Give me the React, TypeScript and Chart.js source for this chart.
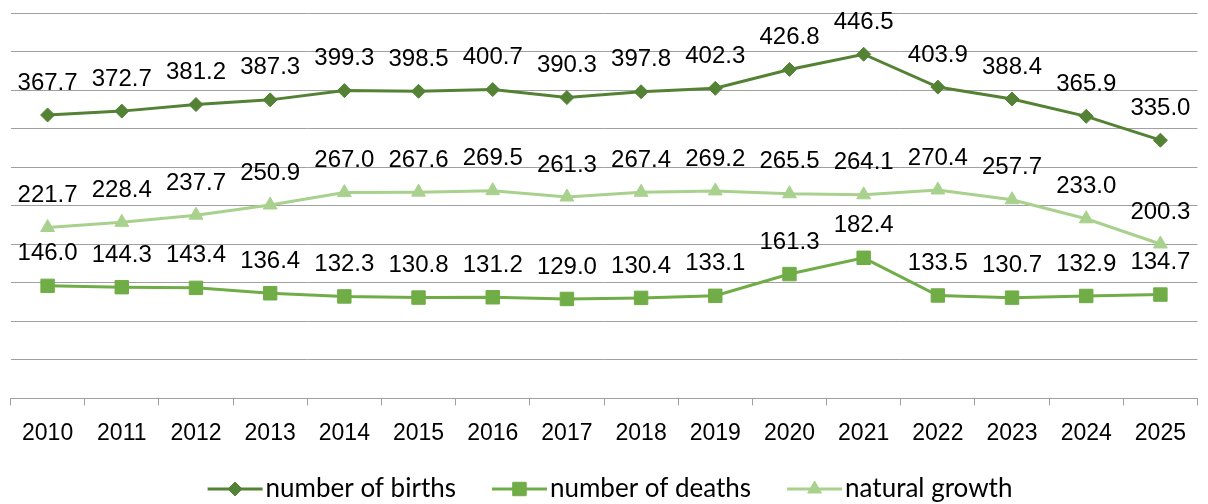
import React, { useEffect, useRef } from "react";
import { Chart, registerables } from "chart.js";
import { drawPoint } from "chart.js/helpers";

Chart.register(...registerables);

const years = ["2010", "2011", "2012", "2013", "2014", "2015", "2016", "2017", "2018", "2019", "2020", "2021", "2022", "2023", "2024", "2025"];
const births = [367.7, 372.7, 381.2, 387.3, 399.3, 398.5, 400.7, 390.3, 397.8, 402.3, 426.8, 446.5, 403.9, 388.4, 365.9, 335.0];
const deaths = [146.0, 144.3, 143.4, 136.4, 132.3, 130.8, 131.2, 129.0, 130.4, 133.1, 161.3, 182.4, 133.5, 130.7, 132.9, 134.7];
const growth = [221.7, 228.4, 237.7, 250.9, 267.0, 267.6, 269.5, 261.3, 267.4, 269.2, 265.5, 264.1, 270.4, 257.7, 233.0, 200.3];
const seriesNames = ["number of births", "number of deaths", "natural growth"];

const FONT = "'Liberation Sans', Arial, sans-serif";
const LEGEND_FONT = "26px Lato, 'Liberation Sans', sans-serif";

const dataLabels = {
  id: "dataLabels",
  afterDatasetsDraw(chart: any) {
    const ctx = chart.ctx;
    ctx.save();
    ctx.font = `24px ${FONT}`;
    ctx.fillStyle = "#000";
    ctx.textAlign = "center";
    ctx.textBaseline = "middle";
    chart.data.datasets.forEach((ds: any, i: number) => {
      const meta = chart.getDatasetMeta(i);
      meta.data.forEach((pt: any, j: number) => {
        ctx.fillText(Number(ds.data[j]).toFixed(1), pt.x, pt.y - 32);
      });
    });
    ctx.restore();
  },
};

const lineLegend = {
  id: "lineLegend",
  afterDraw(chart: any) {
    const ctx = chart.ctx;
    ctx.save();
    ctx.font = LEGEND_FONT;
    const lineW = 55;
    const gap = 3;
    const spacing = 36;
    const items = chart.data.datasets.map((ds: any) => ({ ds, tw: ctx.measureText(ds.label).width }));
    const total = items.reduce((s: number, it: any) => s + lineW + gap + it.tw, 0) + spacing * (items.length - 1);
    let x = (chart.width - total) / 2 + 6;
    const y = chart.height - 15;
    items.forEach(({ ds, tw }: any) => {
      ctx.strokeStyle = ds.borderColor;
      ctx.lineWidth = 3;
      ctx.beginPath();
      ctx.moveTo(x, y);
      ctx.lineTo(x + lineW, y);
      ctx.stroke();
      ctx.fillStyle = ds.pointBackgroundColor;
      ctx.strokeStyle = ds.pointBorderColor;
      ctx.lineWidth = 1;
      drawPoint(ctx, { pointStyle: ds.pointStyle, radius: ds.pointRadius, rotation: 0, borderWidth: 1 } as any, x + lineW / 2, y);
      ctx.fillStyle = "#000";
      ctx.textAlign = "left";
      ctx.textBaseline = "middle";
      ctx.fillText(ds.label, x + lineW + gap, y);
      x += lineW + gap + tw + spacing;
    });
    ctx.restore();
  },
};

function mk(label: string, data: number[], color: string, style: string, radius: number) {
  return {
    label,
    data,
    borderColor: color,
    backgroundColor: color,
    pointBackgroundColor: color,
    pointBorderColor: color,
    pointBorderWidth: 1,
    pointStyle: style,
    pointRadius: radius,
    borderWidth: 3,
    tension: 0,
    fill: false,
  };
}

export default function App() {
  const ref = useRef<HTMLCanvasElement | null>(null);
  useEffect(() => {
    if (!ref.current) return;
    const chart = new Chart(ref.current, {
      type: "line",
      data: {
        labels: years,
        datasets: [
          mk(seriesNames[0], births, "#548235", "rectRot", 7),
          mk(seriesNames[1], deaths, "#70AD47", "rect", 9.5),
          mk(seriesNames[2], growth, "#A9D18E", "triangle", 8),
        ] as any,
      },
      options: {
        animation: false,
        responsive: true,
        maintainAspectRatio: false,
        layout: { padding: { top: 13, left: 10, right: 6, bottom: 43 } },
        plugins: { legend: { display: false }, tooltip: { enabled: false } },
        scales: {
          x: {
            offset: true,
            grid: { offset: true, drawOnChartArea: false, drawTicks: true, tickLength: 7, color: "#a0a0a0", lineWidth: 1 },
            border: { color: "#a0a0a0", width: 1 },
            ticks: { color: "#000", font: { family: FONT, size: 23 }, padding: 14, maxRotation: 0, autoSkip: false },
          },
          y: {
            min: 0,
            max: 500,
            ticks: { stepSize: 50, display: false },
            grid: { color: "#a0a0a0", drawTicks: false, lineWidth: 1 },
            border: { display: false },
          },
        },
      } as any,
      plugins: [dataLabels, lineLegend],
    });
    return () => chart.destroy();
  }, []);
  return (
    <div style={{ position: "fixed", left: 0, top: 0, width: 1208, height: 504, background: "#fff" }}>
      <canvas ref={ref} />
    </div>
  );
}
